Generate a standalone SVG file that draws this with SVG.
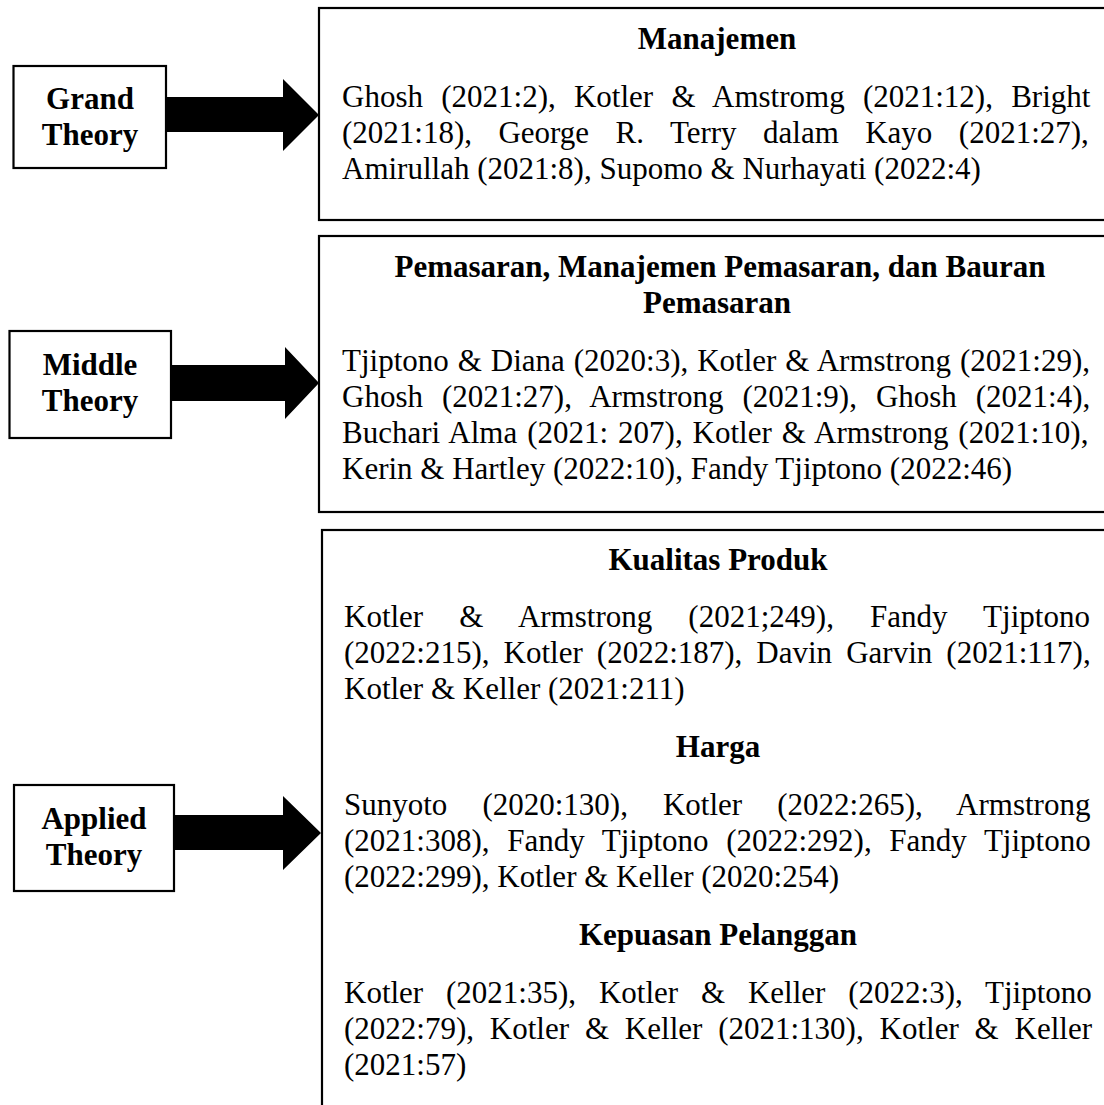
<svg xmlns="http://www.w3.org/2000/svg" width="1104" height="1105" viewBox="0 0 1104 1105">
<style>
.box{fill:#fff;stroke:#000;stroke-width:2.2}
.lbl{font-family:"Liberation Serif","Times New Roman",serif;font-weight:bold;font-size:31px;text-anchor:middle;fill:#000}
.hd{font-family:"Liberation Serif","Times New Roman",serif;font-weight:bold;font-size:31px;text-anchor:middle;fill:#000}
.tx{font-family:"Liberation Serif","Times New Roman",serif;font-size:31px;fill:#000}
.arw{fill:#000}
</style>
<rect width="1104" height="1105" fill="#fff"/>

<g id="grand-theory">
<rect class="box" x="13.5" y="66" width="152.5" height="102"/>
<text class="lbl" x="90" y="109">Grand</text>
<text class="lbl" x="90" y="145">Theory</text>
</g>

<g id="middle-theory">
<rect class="box" x="9.5" y="331" width="161.5" height="107"/>
<text class="lbl" x="90" y="375">Middle</text>
<text class="lbl" x="90" y="411">Theory</text>
</g>

<g id="applied-theory">
<rect class="box" x="14" y="785" width="160" height="106"/>
<text class="lbl" x="94" y="829">Applied</text>
<text class="lbl" x="94" y="865">Theory</text>
</g>

<g id="manajemen">
<rect class="box" x="319" y="8" width="800" height="212"/>
<text class="hd" x="717" y="49">Manajemen</text>
<text class="tx" x="342" y="107" word-spacing="10.5">Ghosh (2021:2), Kotler &amp; Amstromg (2021:12), Bright</text>
<text class="tx" x="342" y="143" word-spacing="18.7">(2021:18), George R. Terry dalam Kayo (2021:27),</text>
<text class="tx" x="342" y="179">Amirullah (2021:8), Supomo &amp; Nurhayati (2022:4)</text>
</g>

<g id="pemasaran">
<rect class="box" x="319" y="236" width="800" height="276"/>
<text class="hd" x="720" y="277">Pemasaran, Manajemen Pemasaran, dan Bauran</text>
<text class="hd" x="717" y="313">Pemasaran</text>
<text class="tx" x="342" y="371" word-spacing="1.2">Tjiptono &amp; Diana (2020:3), Kotler &amp; Armstrong (2021:29),</text>
<text class="tx" x="342" y="407" word-spacing="11.2">Ghosh (2021:27), Armstrong (2021:9), Ghosh (2021:4),</text>
<text class="tx" x="342" y="443" word-spacing="2.2">Buchari Alma (2021: 207), Kotler &amp; Armstrong (2021:10),</text>
<text class="tx" x="342" y="479">Kerin &amp; Hartley (2022:10), Fandy Tjiptono (2022:46)</text>
</g>

<g id="applied-theories">
<rect class="box" x="322" y="530" width="800" height="600"/>
<text class="hd" x="718" y="570">Kualitas Produk</text>
<text class="tx" x="344" y="627" word-spacing="28.4">Kotler &amp; Armstrong (2021;249), Fandy Tjiptono</text>
<text class="tx" x="344" y="663" word-spacing="6.3">(2022:215), Kotler (2022:187), Davin Garvin (2021:117),</text>
<text class="tx" x="344" y="699">Kotler &amp; Keller (2021:211)</text>
<text class="hd" x="718" y="757">Harga</text>
<text class="tx" x="344" y="815" word-spacing="27.3">Sunyoto (2020:130), Kotler (2022:265), Armstrong</text>
<text class="tx" x="344" y="851" word-spacing="9.9">(2021:308), Fandy Tjiptono (2022:292), Fandy Tjiptono</text>
<text class="tx" x="344" y="887">(2022:299), Kotler &amp; Keller (2020:254)</text>
<text class="hd" x="718" y="945">Kepuasan Pelanggan</text>
<text class="tx" x="344" y="1003" word-spacing="15.1">Kotler (2021:35), Kotler &amp; Keller (2022:3), Tjiptono</text>
<text class="tx" x="344" y="1039" word-spacing="8.1">(2022:79), Kotler &amp; Keller (2021:130), Kotler &amp; Keller</text>
<text class="tx" x="344" y="1075">(2021:57)</text>
</g>

<g id="connectors">
<polygon class="arw" points="166,97 283,97 283,79 319,115 283,151 283,132 166,132"/>
<polygon class="arw" points="171,365 285,365 285,347 319,383 285,419 285,401 171,401"/>
<polygon class="arw" points="174,815 283,815 283,796 321,833 283,870 283,850 174,850"/>
</g>
</svg>
